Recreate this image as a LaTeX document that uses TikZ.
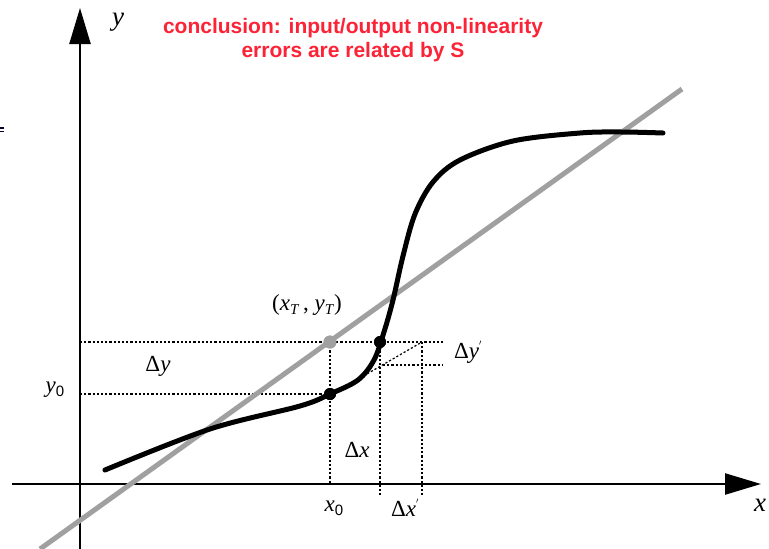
\documentclass[tikz,border=0pt]{standalone}
\usepackage{fontspec}
\setmainfont{Liberation Serif}
\newfontfamily\arialb{Liberation Sans}
\usetikzlibrary{arrows.meta}
\definecolor{redtxt}{RGB}{252,35,55}
\definecolor{lgray}{RGB}{160,160,160}
\tikzset{
  axis/.style={line width=2.4pt,-{Triangle[length=36pt,width=21pt]}},
  guide/.style={line width=1.2pt,dash pattern=on 2.2pt off 2pt},
  lbl/.style={inner sep=0pt,font=\fontsize{23}{26}\selectfont},
  axlbl/.style={inner sep=0pt,font=\fontsize{27}{30}\selectfont\itshape},
  bdot/.style={circle,fill=black,inner sep=0pt,minimum size=12pt},
  gdot/.style={circle,fill=lgray,inner sep=0pt,minimum size=13pt},
  note/.style={text=redtxt,font=\arialb\bfseries\fontsize{21}{24}\selectfont,align=center,inner sep=0pt}
}
\newcommand{\subsc}[1]{\raisebox{-4pt}{\fontsize{15}{15}\selectfont\textit{#1}}}
\newcommand{\subz}{\raisebox{-4pt}{\arialb\fontsize{15}{15}\selectfont 0}}
\newcommand{\prm}{\raisebox{9pt}{\fontsize{11}{11}\selectfont$'$}}
\begin{document}
\begin{tikzpicture}[x=1pt,y=-1pt]
\useasboundingbox (0,0) rectangle (769,549);
% small mark at left edge
\fill[black!80!blue] (0,127) rectangle (4,128.5);
\fill[black!80!blue] (0,130.5) rectangle (4,132);
% coordinates
\coordinate (ybot) at (80,549);
\coordinate (ytop) at (80,8);
\coordinate (xl) at (12,484);
\coordinate (xr) at (761,484);
\coordinate (gl) at (40,549);
\coordinate (gr) at (682,89);
% guide lines
\node[bdot] (p0) at (330,394) {};
\node[bdot] (p1) at (380,342) {};
\node[gdot] (pt) at (330,342) {};
\coordinate (c1) at (422,342);
\coordinate (c2) at (443,342);
\coordinate (c3) at (383,365);
\coordinate (c4) at (443,365);
\coordinate (d0) at (360,378);
\coordinate (ax0) at (330,484);
\coordinate (ax1) at (380,497);
\coordinate (ax2) at (422,497);
\coordinate (ay0) at (80,394);
\coordinate (ay1) at (80,342);
\draw[guide] (ay1) -- (c2);
\draw[guide] (ay0) -- (p0.center);
\draw[guide] (pt.center) -- (ax0);
\draw[guide] (p1.center) -- (ax1);
\draw[guide] (c1) -- (ax2);
\draw[guide] (c3) -- (c4);
\draw[guide] (d0) -- (c1);
% axes
\draw[axis] (ybot) -- (ytop);
\draw[axis] (xl) -- (xr);
% gray straight line
\draw[lgray,line width=5pt] (gl) -- (gr);
% curve
\draw[line width=5pt,line cap=round] plot[smooth,tension=0.55] coordinates {
 (105,470) (210,429) (300,406) (330,394) (358,380) (374,360) (384,332) (393,300) (403,256)
 (415,214) (433,182) (460,160) (513,141) (580,133) (622,132) (663,133)};
\node[gdot] at (pt) {};
\node[bdot] at (p0) {};
\node[bdot] at (p1) {};
% labels
\node[axlbl] (ylab) at (118,22) {y};
\node[axlbl] (xlab) at (760,505) {x};
\node[lbl] (tlab) at (307,305) {(\textit{x}\subsc{T}\,, \textit{y}\subsc{T})};
\node[lbl] (dylab) at (158,366) {Δ\textit{y}};
\node[lbl] (y0lab) at (55,390) {\textit{y}\subz};
\node[lbl] (dxlab) at (357,450) {Δ\textit{x}};
\node[lbl] (x0lab) at (334,508) {\textit{x}\subz};
\node[lbl] (dx1lab) at (405,508) {Δ\textit{x}\prm};
\node[lbl] (dy1lab) at (468,352) {Δ\textit{y}\prm};
\node[note] (concl) at (353,40) {conclusion: input/output non-linearity\\errors are related by S};
\end{tikzpicture}
\end{document}
